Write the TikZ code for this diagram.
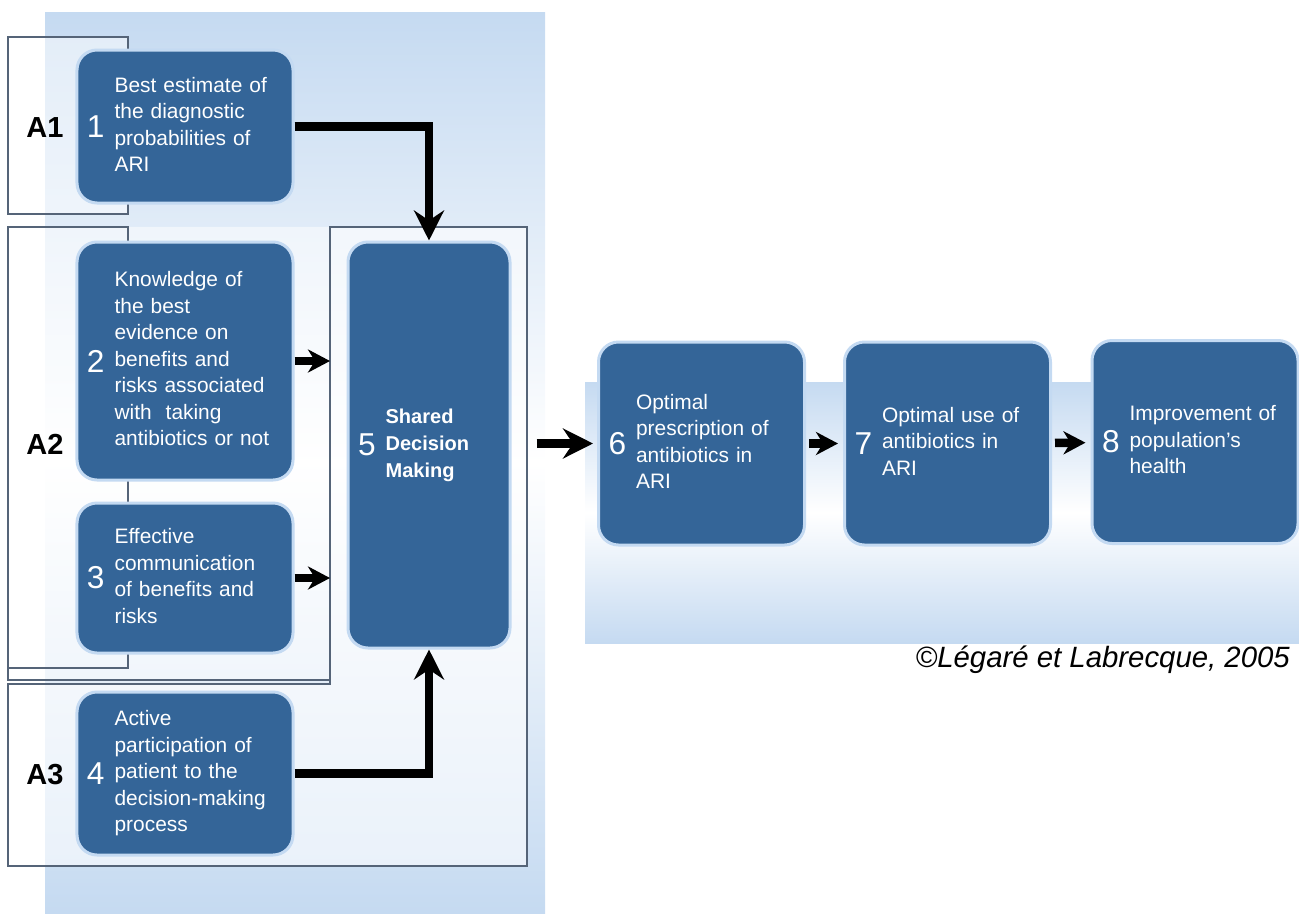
\documentclass[tikz,border=0pt]{standalone}
\usepackage{fontspec}
\setmainfont{Liberation Sans}
\usetikzlibrary{arrows.meta}

\definecolor{boxblue}{RGB}{52,101,152}
\definecolor{boxrim}{RGB}{196,218,242}
\definecolor{panelblue}{RGB}{197,218,241}
\definecolor{bracketline}{RGB}{85,100,120}

% number on the left, lines of text next to it
\newcommand{\stepitem}[2]{$\vcenter{\hbox{\fontsize{18}{18}\selectfont #1}}$\hspace{2mm}$\vcenter{\hbox{\begin{tabular}{@{}l@{}}#2\end{tabular}}}$}

\begin{document}
\begin{tikzpicture}[%
  x=0.2mm, y=-0.2mm,
  stepbox/.style={draw=boxrim, line width=0.6mm, fill=boxblue, rounded corners=4mm,
    text=white, font=\fontsize{11.9}{15.1}\selectfont, align=left, inner xsep=2mm},
  leftbox/.style={stepbox, text width=39.2mm},
  rightbox/.style={stepbox, text width=37.2mm, minimum height=40.6mm},
  bracket/.style={draw=bracketline, line width=0.25mm},
  arr/.style={line width=1.7mm, -{Stealth[length=6mm, width=6mm, inset=2mm]}},
  smallarr/.style={line width=1.7mm, -{Stealth[length=4.4mm, width=4.6mm, inset=1.4mm]}},
  grouplabel/.style={font=\bfseries\fontsize{16.5}{16.5}\selectfont}]

  \useasboundingbox (0,0) rectangle (1299,913);

  % background panels
  \shade[top color=panelblue, bottom color=panelblue, middle color=white] (45,12) rectangle (545,913);
  \shade[top color=panelblue, bottom color=panelblue, middle color=white] (585,382) rectangle (1299,643);

  % brackets A1, A2, A3
  \draw[bracket, fill=white, fill opacity=0.5] (8,37) rectangle (128,214);
  \draw[bracket, fill=white, fill opacity=0.5] (8,227) -- (8,680) -- (330,680) -- (330,227);
  \draw[bracket] (8,227) rectangle (128,668);
  \draw[bracket, fill=white, fill opacity=0.6] (330,227) -- (527,227) -- (527,866) -- (8,866) -- (8,684) -- (330,684) -- cycle;
  \coordinate (grpW) at (330,227);

  \node[grouplabel] (a1) at (45,128) {A1};
  \node[grouplabel] (a2) at (45,444) {A2};
  \node[grouplabel] (a3) at (45,775) {A3};

  % steps
  \node[leftbox, minimum height=30.6mm] (b1) at (185,126.5)
    {\stepitem{1}{Best estimate of\\the diagnostic\\probabilities of\\ARI}};
  \node[leftbox, minimum height=47.6mm] (b2) at (185,361)
    {\stepitem{2}{Knowledge of\\the best\\evidence on\\benefits and\\risks associated\\with\ \ taking\\antibiotics or not}};
  \node[leftbox, minimum height=30mm] (b3) at (185,578)
    {\stepitem{3}{Effective\\communication\\of benefits and\\risks}};
  \node[leftbox, minimum height=32.6mm] (b4) at (185,773.5)
    {\stepitem{4}{Active\\participation of\\patient to the\\decision-making\\process}};
  \node[stepbox, text width=28.4mm, minimum height=81.2mm,
    font=\fontsize{11.4}{15.6}\selectfont] (b5) at (429,445)
    {\stepitem{5}{\textbf{Shared}\\\textbf{Decision}\\\textbf{Making}}};
  \node[rightbox] (b6) at (701.5,443.5)
    {\stepitem{6}{Optimal\\prescription of\\antibiotics in\\ARI}};
  \node[rightbox] (b7) at (947.5,443.5)
    {\stepitem{7}{Optimal use of\\antibiotics in\\ARI}};
  \node[rightbox] (b8) at (1195,442)
    {\stepitem{8}{Improvement of\\population’s\\health}};

  % connectors
  \draw[arr] (b1.east) -| (b5.north);
  \draw[arr] (b4.east) -| (b5.south);
  \draw[smallarr] (b2.east) -- (b2.east -| grpW);
  \draw[smallarr] (b3.east) -- (b3.east -| grpW);
  \draw[arr, shorten >=0.8mm] ([xshift=5mm]b5.east |- b6.west) -- (b6.west);
  \draw[smallarr, shorten <=0.6mm, shorten >=1mm] (b6) -- (b7);
  \draw[smallarr, shorten <=0.6mm, shorten >=1mm] (b7) -- (b8);

  \node[anchor=east, font=\itshape\fontsize{16.7}{16.7}\selectfont] (credit) at (1296,660)
    {©Légaré et Labrecque, 2005};
\end{tikzpicture}
\end{document}
